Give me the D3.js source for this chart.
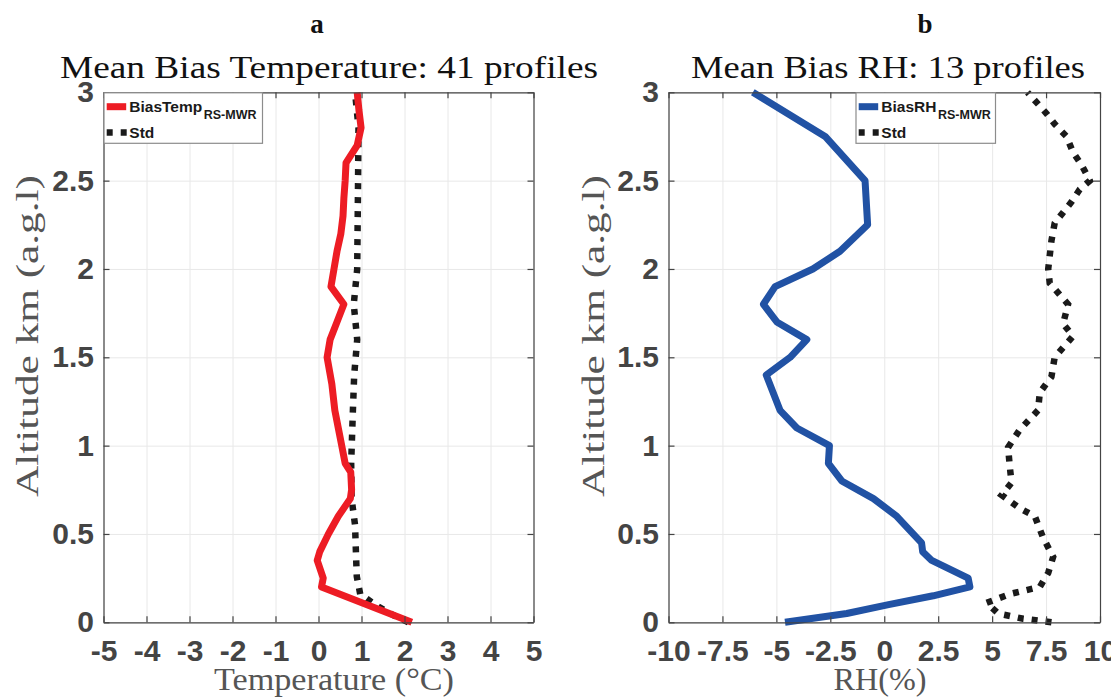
<!DOCTYPE html>
<html>
<head>
  <meta charset="utf-8">
  <script src="https://cdn.jsdelivr.net/npm/d3@7/dist/d3.min.js"></script>
  <style>
    body { margin: 0; background: #fff; }
  </style>
</head>
<body>
<div id="chart"></div>
<script>
// ---- data ----
// panel a : temperature bias (deg C) against altitude (km)
var tempBiasAlt = [0, 0.2, 0.25, 0.35, 0.4, 0.5, 0.6, 0.7, 0.75, 0.85, 0.9, 1.0, 1.1, 1.2, 1.35, 1.5, 1.6, 1.7, 1.8, 1.9, 2.0, 2.1, 2.2, 2.3, 2.4, 2.5, 2.6, 2.7, 2.8, 2.9, 3.0];
var tempBias    = [2.17, 0.07, 0.11, -0.03, 0.03, 0.23, 0.46, 0.74, 0.77, 0.75, 0.62, 0.54, 0.46, 0.38, 0.31, 0.2, 0.27, 0.43, 0.59, 0.29, 0.36, 0.43, 0.52, 0.57, 0.59, 0.62, 0.64, 0.9, 0.99, 0.94, 0.9];
var tempStdAlt  = [0, 0.04, 0.1, 0.16, 0.26, 0.4, 0.55, 0.7, 0.9, 1.2, 1.4, 1.6, 1.8, 2.0, 2.5, 2.8, 3.0];
var tempStd     = [2.09, 1.74, 1.31, 0.97, 0.89, 0.87, 0.85, 0.77, 0.76, 0.8, 0.83, 0.9, 0.82, 0.9, 0.92, 0.93, 0.85];

// panel b : RH bias (%) against altitude (km)
var rhBiasAlt = [0, 0.05, 0.1, 0.15, 0.2, 0.25, 0.35, 0.4, 0.45, 0.6, 0.7, 0.8, 0.9, 1.0, 1.1, 1.2, 1.4, 1.5, 1.6, 1.7, 1.8, 1.9, 2.0, 2.1, 2.25, 2.5, 2.75, 3.0];
var rhBias    = [-4.6, -1.74, 0.2, 2.27, 3.97, 3.89, 2.2, 1.78, 1.73, 0.58, -0.5, -1.97, -2.59, -2.54, -4.05, -4.83, -5.47, -4.36, -3.59, -4.98, -5.6, -5.06, -3.31, -2.05, -0.77, -0.89, -2.74, -6.09];
var rhStdAlt  = [0, 0.02, 0.05, 0.11, 0.16, 0.2, 0.28, 0.37, 0.48, 0.6, 0.645, 0.72, 0.79, 0.88, 0.99, 1.09, 1.2, 1.3, 1.39, 1.45, 1.5, 1.62, 1.69, 1.8, 1.92, 2.0, 2.16, 2.26, 2.32, 2.38, 2.45, 2.5, 2.59, 2.66, 2.75, 2.82, 2.88, 3.0];
var rhStd     = [7.75, 6.44, 5.28, 4.74, 5.82, 7.21, 7.6, 7.83, 7.36, 6.98, 6.28, 5.44, 5.9, 5.82, 5.74, 6.28, 7.13, 7.21, 7.75, 7.83, 7.9, 8.75, 8.29, 8.52, 7.67, 7.6, 7.75, 7.9, 8.29, 8.68, 9.06, 9.53, 9.14, 8.75, 8.45, 7.9, 7.52, 6.64];

var altTicks  = [0, 0.5, 1, 1.5, 2, 2.5, 3];
var tempTicks = [-5, -4, -3, -2, -1, 0, 1, 2, 3, 4, 5];
var rhTicks   = [-10, -7.5, -5, -2.5, 0, 2.5, 5, 7.5, 10];

var width = 1111, height = 697;
var svg = d3.select("#chart").append("svg")
  .attr("width", width).attr("height", height)
  .style("font-family", "'Liberation Sans', Arial, sans-serif");

var plotTop = 92.3, plotBottom = 622.3;
var axisCol = "#444";
var sansBold = "'Liberation Sans', Arial, sans-serif";
var serif = "'Liberation Serif', 'Times New Roman', serif";

function zipPts(alt, val) {
  return alt.map(function(a, i) { return [val[i], a]; });
}

function drawPanel(p) {
  var x = d3.scaleLinear().domain(p.xDomain).range([p.left, p.right]);
  var y = d3.scaleLinear().domain([0, 3]).range([plotBottom, plotTop]);
  var g = svg.append("g");

  // grid
  g.append("g").attr("transform", "translate(0," + plotBottom + ")")
    .call(d3.axisBottom(x).tickValues(p.xTicks).tickSize(-(plotBottom - plotTop)).tickFormat(""))
    .call(function(s) { s.select(".domain").remove(); s.selectAll("line").attr("stroke", "#e8e8e8"); });
  g.append("g").attr("transform", "translate(" + p.left + ",0)")
    .call(d3.axisLeft(y).tickValues(altTicks).tickSize(-(p.right - p.left)).tickFormat(""))
    .call(function(s) { s.select(".domain").remove(); s.selectAll("line").attr("stroke", "#e8e8e8"); });

  // data lines
  var line = d3.line().x(function(d) { return x(d[0]); }).y(function(d) { return y(d[1]); });
  g.append("path").datum(zipPts(p.stdAlt, p.std))
    .attr("d", line).attr("fill", "none").attr("stroke", "#1a1a1a")
    .attr("stroke-width", 6.5).attr("stroke-dasharray", "6,8");
  g.append("path").datum(zipPts(p.biasAlt, p.bias))
    .attr("d", line).attr("fill", "none").attr("stroke", p.color)
    .attr("stroke-width", 7).attr("stroke-linejoin", "round");

  // axes with inward ticks
  function styleAxis(s) {
    s.select(".domain").attr("stroke", axisCol).attr("stroke-width", 1.2);
    s.selectAll(".tick line").attr("stroke", axisCol).attr("stroke-width", 1.2);
    s.selectAll("text").attr("fill", axisCol).attr("font-size", 30)
      .attr("font-weight", "bold").attr("font-family", sansBold);
  }
  var fmt = function(d) { return String(d); };
  g.append("g").attr("transform", "translate(0," + plotBottom + ")")
    .call(d3.axisBottom(x).tickValues(p.xTicks).tickSizeInner(-6).tickSizeOuter(0).tickPadding(17).tickFormat(fmt))
    .call(styleAxis);
  g.append("g").attr("transform", "translate(0," + plotTop + ")")
    .call(d3.axisTop(x).tickValues(p.xTicks).tickSizeInner(-6).tickSizeOuter(0).tickFormat(""))
    .call(styleAxis);
  g.append("g").attr("transform", "translate(" + p.left + ",0)")
    .call(d3.axisLeft(y).tickValues(altTicks).tickSizeInner(-6).tickSizeOuter(0).tickPadding(9.5).tickFormat(fmt))
    .call(styleAxis);
  g.append("g").attr("transform", "translate(" + p.right + ",0)")
    .call(d3.axisRight(y).tickValues(altTicks).tickSizeInner(-6).tickSizeOuter(0).tickFormat(""))
    .call(styleAxis);

  // legend
  var lg = g.append("g");
  lg.append("rect").attr("x", p.legendX).attr("y", plotTop + 0.5)
    .attr("width", p.legendW).attr("height", 50.5)
    .attr("fill", "#fff").attr("stroke", "#8c8c8c").attr("stroke-width", 1.2);
  var lx = p.legendX + 2.7;
  lg.append("line").attr("x1", lx).attr("x2", lx + 19.5).attr("y1", 106.7).attr("y2", 106.7)
    .attr("stroke", p.color).attr("stroke-width", 7);
  lg.append("line").attr("x1", lx).attr("x2", lx + 20).attr("y1", 132.5).attr("y2", 132.5)
    .attr("stroke", "#1a1a1a").attr("stroke-width", 6.5).attr("stroke-dasharray", "6,8");
  var t = lg.append("text").attr("x", lx + 22.6).attr("y", 111.5)
    .attr("font-family", sansBold).attr("font-weight", "bold").attr("font-size", 15.5).attr("fill", "#1a1a1a");
  t.append("tspan").text(p.legendName);
  t.append("tspan").attr("dx", 1.5).attr("dy", 7).attr("font-size", 12.5).text("RS-MWR");
  lg.append("text").attr("x", lx + 22.6).attr("y", 138)
    .attr("font-family", sansBold).attr("font-weight", "bold").attr("font-size", 15.5).attr("fill", "#1a1a1a")
    .text("Std");

  // titles and labels
  svg.append("text").attr("x", p.letterX).attr("y", 33).attr("text-anchor", "middle")
    .attr("font-family", serif).attr("font-weight", "bold").attr("font-size", 27).attr("fill", "#111")
    .text(p.letter);
  svg.append("text").attr("x", p.titleX).attr("y", 78).attr("text-anchor", "middle")
    .attr("font-family", serif).attr("font-size", 32).attr("fill", "#111")
    .attr("textLength", p.titleW).attr("lengthAdjust", "spacingAndGlyphs")
    .text(p.title);
  svg.append("text").attr("x", p.xLabelX).attr("y", 690).attr("text-anchor", "middle")
    .attr("font-family", serif).attr("font-size", 31).attr("fill", "#555")
    .attr("textLength", p.xLabelW).attr("lengthAdjust", "spacingAndGlyphs")
    .text(p.xLabel);
  svg.append("text").attr("transform", "translate(" + p.yLabelX + ",336) rotate(-90)")
    .attr("text-anchor", "middle")
    .attr("font-family", serif).attr("font-size", 31).attr("fill", "#555")
    .attr("textLength", 322).attr("lengthAdjust", "spacingAndGlyphs")
    .text("Altitude km (a.g.l)");
}

drawPanel({
  left: 103.5, right: 533.5, xDomain: [-5, 5], xTicks: tempTicks,
  biasAlt: tempBiasAlt, bias: tempBias, stdAlt: tempStdAlt, std: tempStd,
  color: "#ed1c24", legendName: "BiasTemp", legendX: 104, legendW: 158.5,
  letter: "a", letterX: 317, title: "Mean Bias Temperature: 41 profiles", titleX: 329, titleW: 538,
  xLabel: "Temperature (\u00B0C)", xLabelX: 334, xLabelW: 240, yLabelX: 38
});
drawPanel({
  left: 668.5, right: 1100, xDomain: [-10, 10], xTicks: rhTicks,
  biasAlt: rhBiasAlt, bias: rhBias, stdAlt: rhStdAlt, std: rhStd,
  color: "#2152a4", legendName: "BiasRH", legendX: 856, legendW: 139.5,
  letter: "b", letterX: 925, title: "Mean Bias RH: 13 profiles", titleX: 888, titleW: 394,
  xLabel: "RH(%)", xLabelX: 880, xLabelW: 93, yLabelX: 604
});
</script>
</body>
</html>
